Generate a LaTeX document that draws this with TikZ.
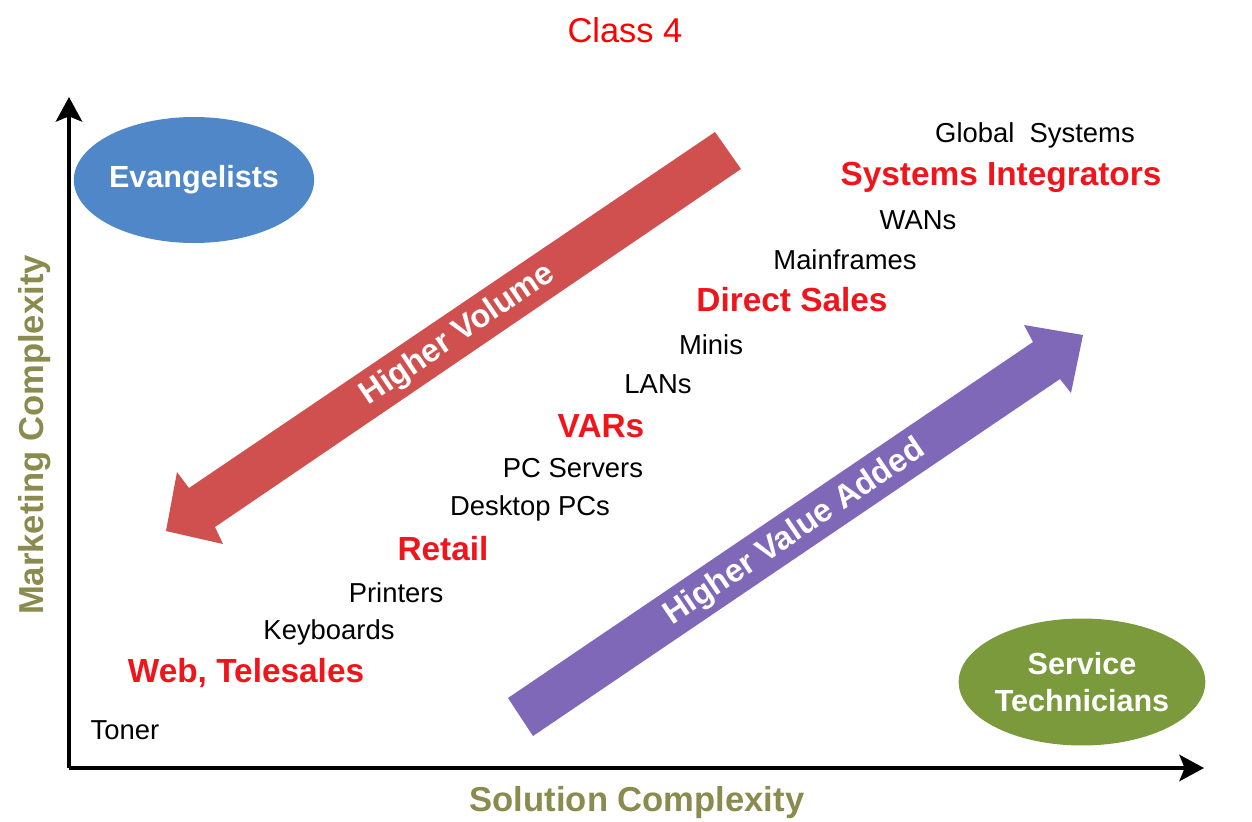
\documentclass[tikz,border=0pt]{standalone}
\usepackage{fontspec}
\setmainfont{Liberation Sans}
\usetikzlibrary{shapes.geometric,arrows.meta}
\definecolor{evblue}{HTML}{4F87C8}
\definecolor{stgreen}{HTML}{7A9A3C}
\definecolor{volred}{HTML}{D0504F}
\definecolor{valpurple}{HTML}{8068B8}
\definecolor{axisolive}{HTML}{8A8B4E}
\definecolor{labred}{HTML}{F0141B}
\tikzset{
  item/.style={font=\fontsize{15.6pt}{18pt}\selectfont, text=black, inner sep=0pt},
  channel/.style={font=\fontsize{19pt}{22pt}\selectfont\bfseries, text=labred, inner sep=0pt},
  blob/.style={ellipse, inner sep=0pt, text=white, align=center,
    font=\fontsize{17.4pt}{21.5pt}\selectfont\bfseries},
  axislabel/.style={font=\fontsize{19.7pt}{23pt}\selectfont\bfseries, text=axisolive, inner sep=0pt},
  arrowtext/.style={font=\fontsize{18.5pt}{22pt}\selectfont\bfseries, text=white, inner sep=0pt, rotate=34.1},
  axisline/.style={line width=2.2pt, -{Stealth[length=14pt,width=15pt,inset=3pt]}}
}
\begin{document}
\begin{tikzpicture}[x=0.02cm,y=-0.02cm]
\useasboundingbox (0,0) rectangle (1252,822);
% title
\node[font=\fontsize{19.6pt}{23pt}\selectfont, text=red, inner sep=0pt] (title) at (625,30) {Class 4};
% axes
\coordinate (O) at (69,768);
\coordinate (ytop) at (69,97);
\coordinate (xend) at (1204,768);
\draw[axisline] (O) -- (ytop);
\draw[axisline] (O) -- (xend);
\node[axislabel, rotate=90] (ylab) at (35,435) {Marketing Complexity};
\node[axislabel] (xlab) at (637,803) {Solution Complexity};
% ellipses
\node[blob, fill=evblue, minimum width=4.44cm, minimum height=2.52cm] (evang) at (194,180) {Evangelists};
\node[blob, fill=stgreen, minimum width=4.42cm, minimum height=2.54cm] (serv) at (1082,682) {Service\\Technicians};
% red arrow (Higher Volume)
\coordinate (r1) at (715,132);
\coordinate (r2) at (741,169);
\coordinate (r3) at (215,527);
\coordinate (r4) at (223,544);
\coordinate (r5) at (166,531);
\coordinate (r6) at (177,472);
\coordinate (r7) at (189,488);
\fill[volred] (r1) -- (r2) -- (r3) -- (r4) -- (r5) -- (r6) -- (r7) -- cycle;
\node[arrowtext] (hv) at (458,335) {Higher Volume};
% purple arrow (Higher Value Added)
\coordinate (p1) at (508,698);
\coordinate (p2) at (533,736);
\coordinate (p3) at (1060,379);
\coordinate (p4) at (1071,393);
\coordinate (p5) at (1083,335);
\coordinate (p6) at (1024,325);
\coordinate (p7) at (1033,342);
\fill[valpurple] (p1) -- (p2) -- (p3) -- (p4) -- (p5) -- (p6) -- (p7) -- cycle;
\node[arrowtext] (hva) at (795,533) {Higher Value Added};
% labels
\node[item] (glob) at (1035,135) {Global\ \ Systems};
\node[channel] (si) at (1001,177) {Systems Integrators};
\node[item] (wan) at (918,220) {WANs};
\node[item] (mf) at (845,260) {Mainframes};
\node[channel] (ds) at (792,300) {Direct Sales};
\node[item] (minis) at (711,345) {Minis};
\node[item] (lan) at (658,384) {LANs};
\node[channel] (var) at (601,426) {VARs};
\node[item] (pcs) at (573,468) {PC Servers};
\node[item] (dpc) at (530,508) {Desktop PCs};
\node[channel] (ret) at (443,549) {Retail};
\node[item] (prn) at (396,593) {Printers};
\node[item] (kbd) at (329,632) {Keyboards};
\node[channel] (web) at (246,673) {Web, Telesales};
\node[item] (ton) at (125,730) {Toner};
\end{tikzpicture}
\end{document}
